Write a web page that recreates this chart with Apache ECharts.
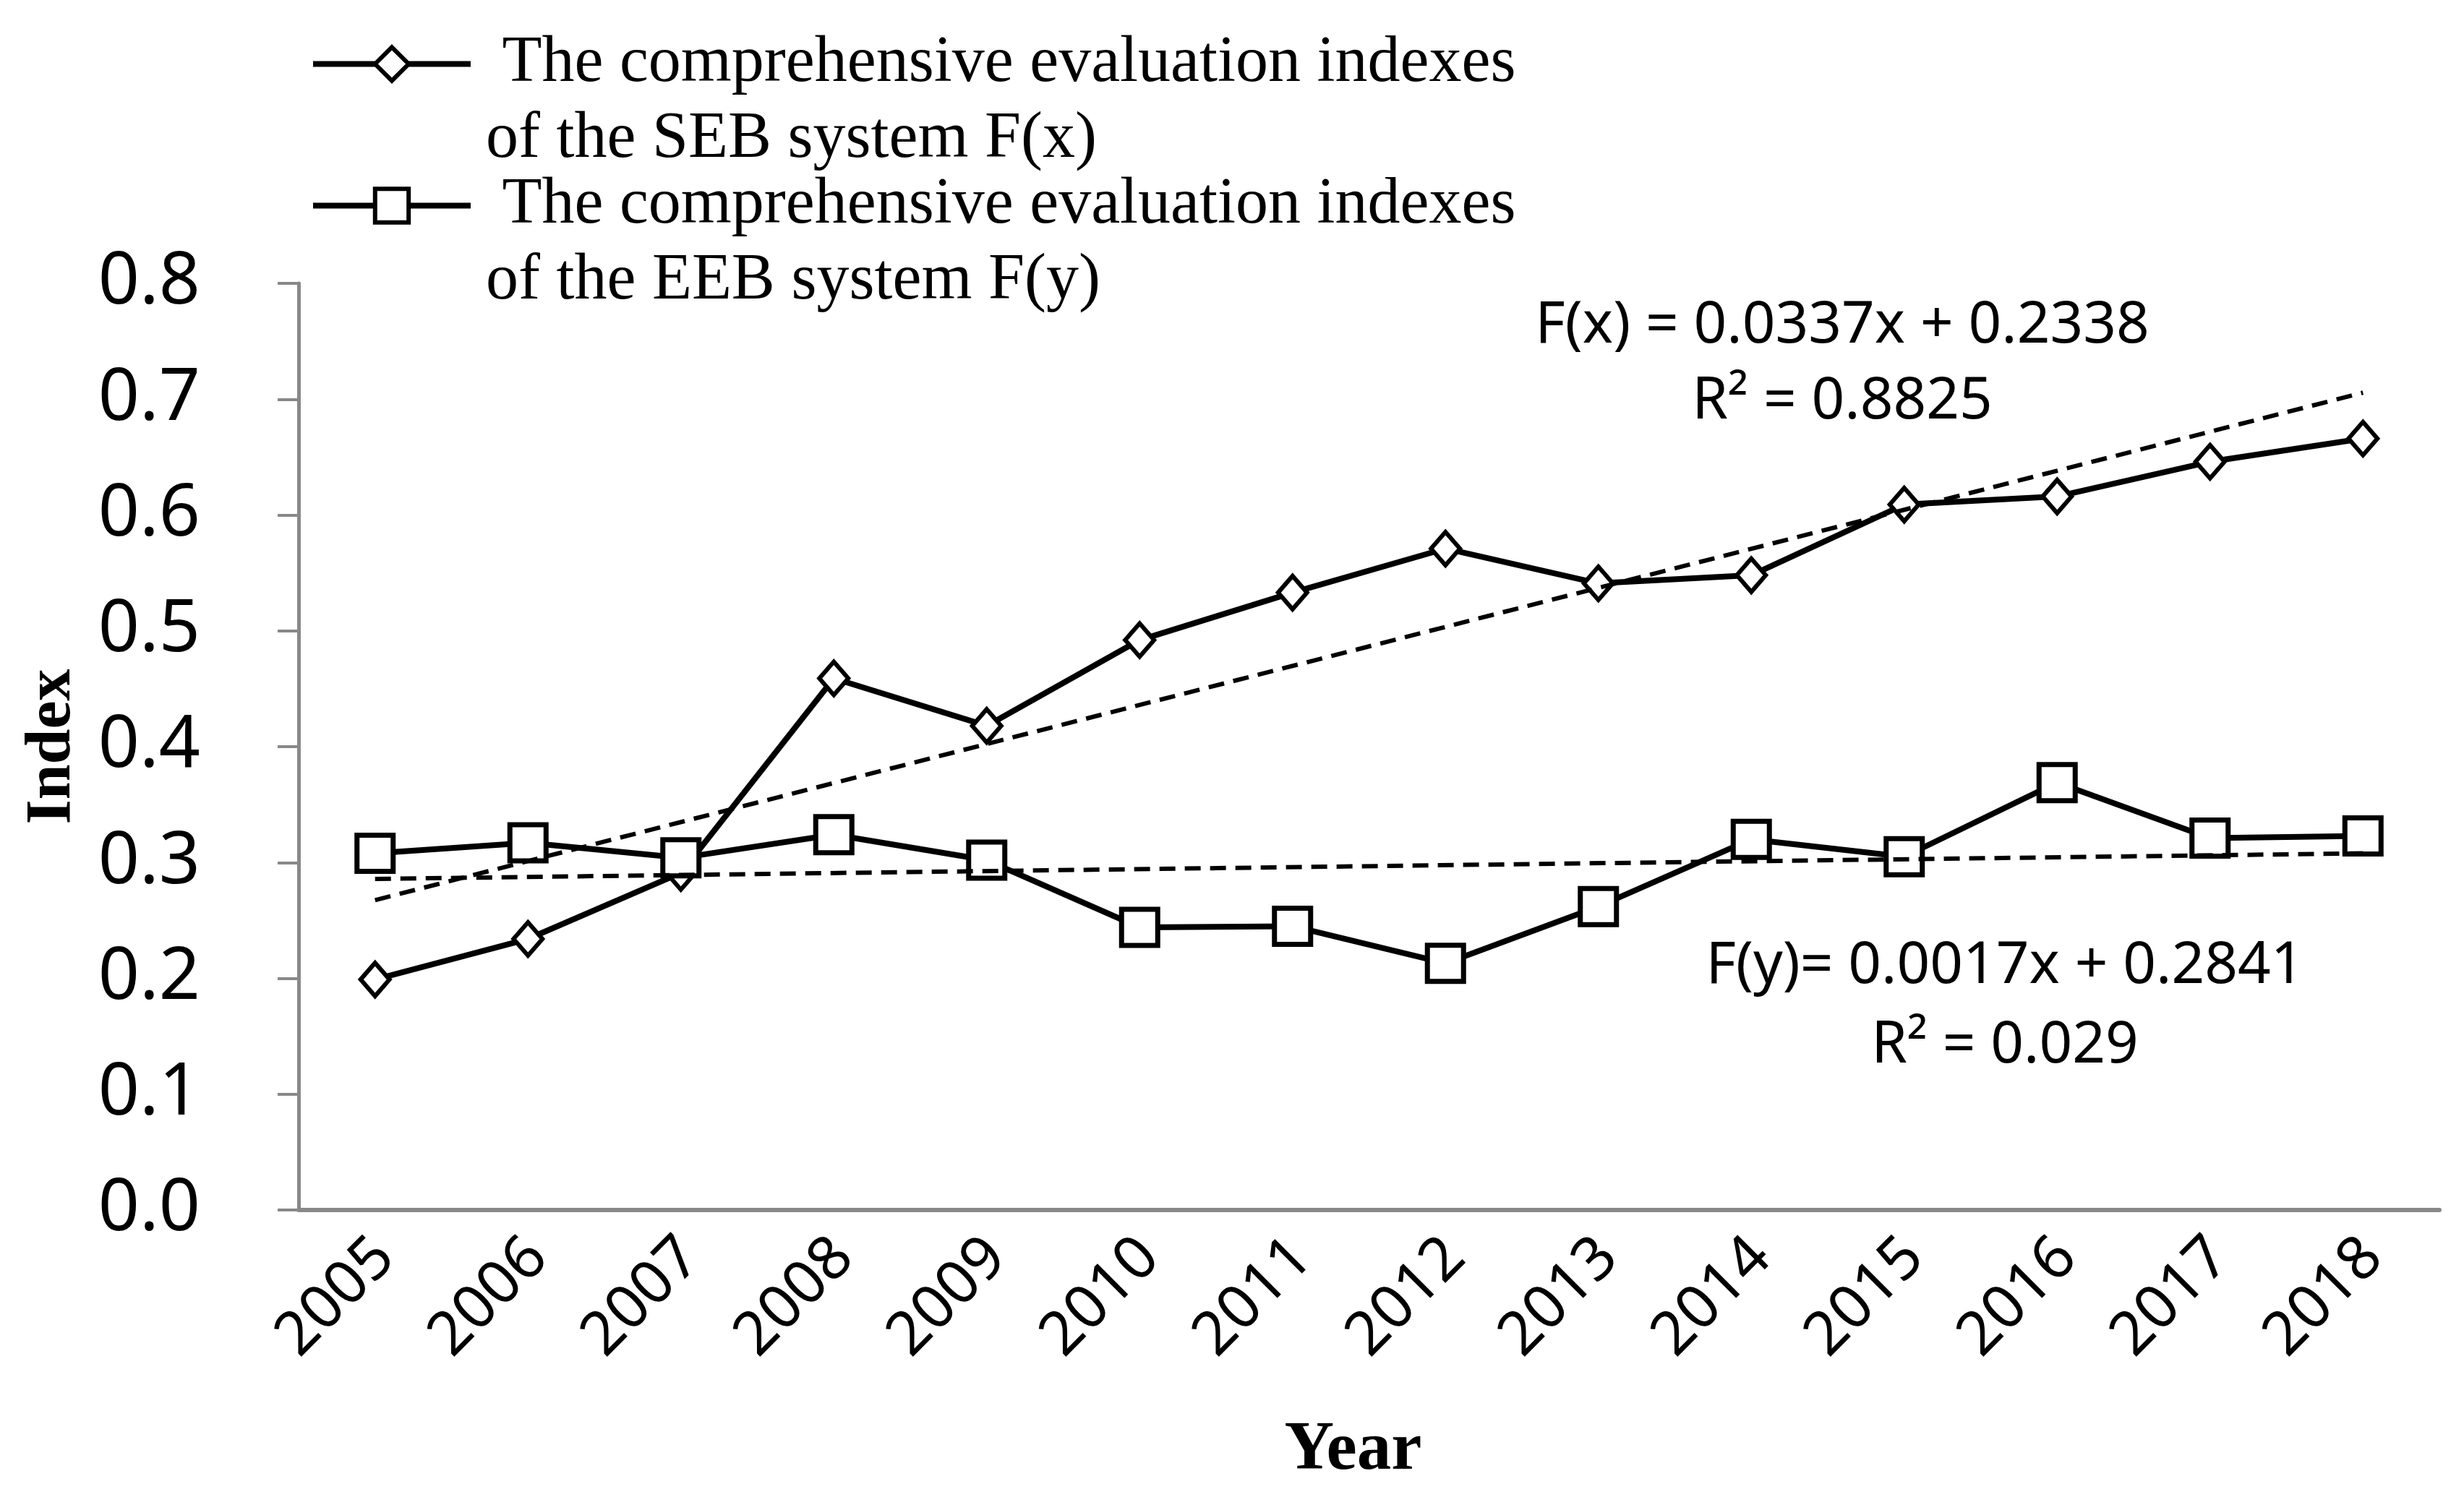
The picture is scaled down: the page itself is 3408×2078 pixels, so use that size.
<!DOCTYPE html>
<html>
<head>
<meta charset="utf-8">
<script src="https://cdn.jsdelivr.net/npm/echarts@6/dist/echarts.min.js"></script>
<style>
html,body{margin:0;padding:0;background:#fff;}
#chart{width:3408px;height:2078px;}
</style>
</head>
<body>
<div id="chart"></div>
<script>
// ---- data ----
const years = ['2005','2006','2007','2008','2009','2010','2011','2012','2013','2014','2015','2016','2017','2018'];
const sebIndex = [0.199, 0.234, 0.291, 0.459, 0.418, 0.492, 0.533, 0.571, 0.541, 0.548, 0.609, 0.616, 0.646, 0.666];
const eebIndex = [0.308, 0.317, 0.304, 0.324, 0.302, 0.244, 0.245, 0.213, 0.262, 0.320, 0.305, 0.369, 0.321, 0.323];
const trendX = [0.0337, 0.2338]; // slope, intercept  F(x)
const trendY = [0.0017, 0.2841]; // slope, intercept  F(y)
const seriesNames = [
  ' The comprehensive evaluation indexes\nof the SEB system F(x)',
  ' The comprehensive evaluation indexes\nof the EEB system F(y)'
];
const eqTextX = 'F(x) = 0.0337x + 0.2338\nR² = 0.8825';
const eqTextY = 'F(y)= 0.0017x + 0.2841\nR² = 0.029';
const yTicks = {min: 0, max: 0.8, interval: 0.1};

// trend lines from the printed regression equations (x = 1..n)
const trendLine = (c) => years.map((_, i) => (i === 0 || i === years.length - 1) ? +(c[0] * (i + 1) + c[1]).toFixed(4) : null);

const chart = echarts.init(document.getElementById('chart'));
const axisGray = '#888888';
const sans = 'Noto Sans';
const serif = 'Liberation Serif';

chart.setOption({
  animation: false,
  backgroundColor: '#ffffff',
  grid: {left: 413, right: 34, top: 392, bottom: 404, containLabel: false},
  legend: {
    orient: 'vertical',
    left: 429,
    top: -69,
    padding: 0,
    itemGap: -119,
    itemWidth: 218,
    itemHeight: 58,
    data: seriesNames,
    formatter: n => ' \n' + n,
    lineStyle: {color: '#000', width: 8},
    itemStyle: {color: '#fff', borderColor: '#000', borderWidth: 6},
    textStyle: {
      fontFamily: serif, fontSize: 90, lineHeight: 105, color: '#000',
      padding: [0, 0, 0, 16]
    }
  },
  xAxis: {
    type: 'category',
    data: years,
    boundaryGap: true,
    name: 'Year',
    nameLocation: 'middle',
    nameGap: 286,
    nameTextStyle: {fontFamily: serif, fontWeight: 'bold', fontSize: 95, color: '#000', padding: [0, 44, 0, 0]},
    axisLine: {lineStyle: {color: axisGray, width: 6}},
    axisTick: {inside: true, length: 26, lineStyle: {color: axisGray, width: 5}},
    axisLabel: {rotate: 45, margin: 67, fontFamily: sans, fontSize: 84, color: '#000', interval: 0, padding: [0, -20, 0, 0]},
    splitLine: {show: false}
  },
  yAxis: {
    type: 'value',
    min: yTicks.min, max: yTicks.max, interval: yTicks.interval,
    name: 'Index',
    nameLocation: 'middle',
    nameGap: 296,
    nameRotate: 90,
    nameTextStyle: {fontFamily: serif, fontWeight: 'bold', fontSize: 88, color: '#000'},
    axisLine: {show: true, lineStyle: {color: axisGray, width: 5}},
    axisTick: {show: true, inside: false, length: 29, lineStyle: {color: axisGray, width: 4}},
    axisLabel: {margin: 136, fontFamily: sans, fontSize: 100, color: '#000', formatter: v => v.toFixed(1)},
    splitLine: {show: false}
  },
  series: [
    {
      name: seriesNames[0], type: 'line', data: sebIndex,
      symbol: 'diamond', symbolSize: [40, 46],
      lineStyle: {color: '#000', width: 8},
      itemStyle: {color: '#fff', borderColor: '#000', borderWidth: 6},
      z: 3
    },
    {
      name: seriesNames[1], type: 'line', data: eebIndex,
      symbol: 'rect', symbolSize: 50,
      lineStyle: {color: '#000', width: 8},
      itemStyle: {color: '#fff', borderColor: '#000', borderWidth: 7},
      z: 3
    },
    {
      name: 'trendX', type: 'line', data: trendLine(trendX), connectNulls: true,
      symbol: 'none', lineStyle: {color: '#000', width: 6, type: [22, 13]}, z: 4, silent: true
    },
    {
      name: 'trendY', type: 'line', data: trendLine(trendY), connectNulls: true,
      symbol: 'none', lineStyle: {color: '#000', width: 6, type: [22, 13]}, z: 4, silent: true
    }
  ],
  graphic: [
    {type: 'text', x: 2548, y: 504, style: {text: eqTextX, font: '80px "Noto Sans"', fill: '#000', align: 'center', verticalAlign: 'middle', lineHeight: 105}},
    {type: 'text', x: 2773, y: 1392, style: {text: eqTextY, font: '80px "Noto Sans"', fill: '#000', align: 'center', verticalAlign: 'middle', lineHeight: 110}}
  ]
});
</script>
</body>
</html>
